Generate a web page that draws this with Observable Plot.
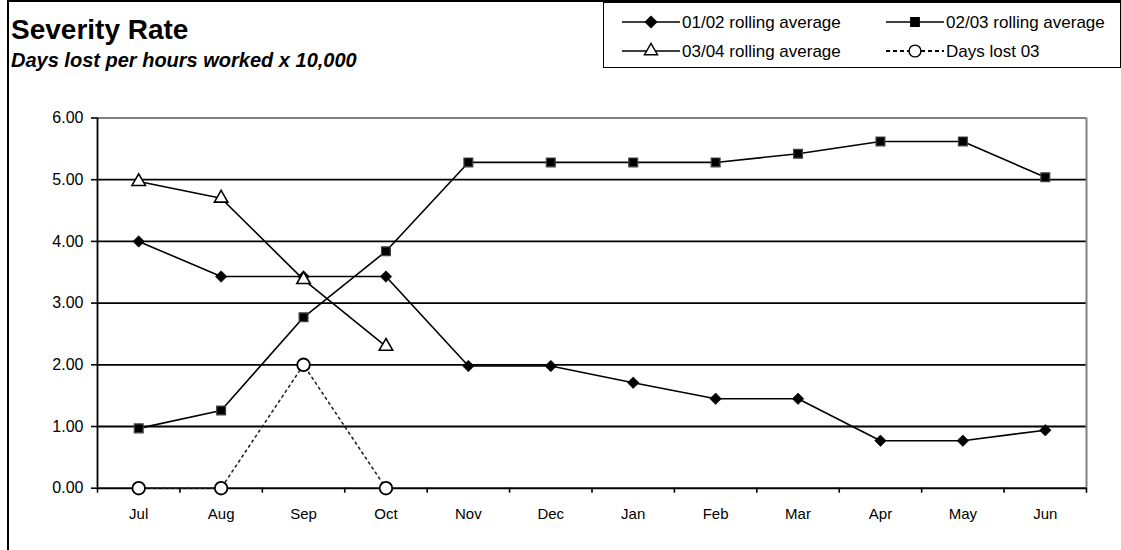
<!DOCTYPE html>
<html>
<head>
<meta charset="utf-8">
<script src="https://cdn.jsdelivr.net/npm/d3@7"></script>
<script src="https://cdn.jsdelivr.net/npm/@observablehq/plot@0.6"></script>
<style>
  html, body { margin: 0; padding: 0; background: #fff; }
  #wrap { position: relative; width: 1121px; height: 550px; background: #fff; font-family: "Liberation Sans", Arial, sans-serif; color: #000; overflow: hidden; }
  #frame { position: absolute; left: 7px; top: 0; width: 1114px; height: 550px; border-left: 2px solid #000; border-top: 2px solid #000; box-sizing: border-box; }
  #title { position: absolute; left: 11px; top: 16px; font-size: 28px; font-weight: bold; line-height: 1; }
  #subtitle { position: absolute; left: 11px; top: 50px; font-size: 20px; font-weight: bold; font-style: italic; line-height: 1; }
  #legend { position: absolute; left: 603px; top: 2px; width: 518px; height: 66px; border: 1.5px solid #000; box-sizing: border-box; background: #fff; }
  .item { position: absolute; display: flex; align-items: center; font-size: 17px; line-height: 1; white-space: nowrap; }
  .item svg { display: block; margin-right: 2px; }
  #chart { position: absolute; left: 0; top: 100px; }
</style>
</head>
<body>
<div id="wrap">
  <div id="frame"></div>
  <div id="title">Severity Rate</div>
  <div id="subtitle">Days lost per hours worked x 10,000</div>
  <div id="legend"></div>
  <div id="chart"></div>
</div>
<script>
// ---- data ----
const months = ["Jul", "Aug", "Sep", "Oct", "Nov", "Dec", "Jan", "Feb", "Mar", "Apr", "May", "Jun"];
const avg0102 = [4.00, 3.43, 3.43, 3.43, 1.98, 1.98, 1.71, 1.45, 1.45, 0.77, 0.77, 0.94];
const avg0203 = [0.97, 1.26, 2.77, 3.84, 5.28, 5.28, 5.28, 5.28, 5.42, 5.62, 5.62, 5.04];
const avg0304 = [4.97, 4.70, 3.38, 2.30];
const daysLost03 = [0.00, 0.00, 2.00, 0.00];
const yTicks = [0, 1, 2, 3, 4, 5, 6];
const seriesNames = ["01/02 rolling average", "02/03 rolling average", "03/04 rolling average", "Days lost 03"];

const toRows = (vals) => vals.map((v, i) => ({month: months[i], i, value: v}));
const s1 = toRows(avg0102), s2 = toRows(avg0203), s3 = toRows(avg0304), s4 = toRows(daysLost03);
const idx = months.map((m, i) => i);
const bounds = d3.range(months.length + 1).map(i => i - 0.5);

const chart = Plot.plot({
  width: 1121,
  height: 450,
  marginLeft: 97,
  marginRight: 35,
  marginTop: 17.5,
  marginBottom: 62.3,
  style: {fontFamily: '"Liberation Sans", Arial, sans-serif', fontSize: "15px", background: "transparent", color: "#000"},
  x: {domain: [-0.5, months.length - 0.5], label: null},
  y: {domain: [0, 6], label: null},
  marks: [
    Plot.ruleY(yTicks.filter(t => t > 0 && t < 6), {stroke: "#000", strokeWidth: 1.8}),
    Plot.ruleY([6], {stroke: "#808080", strokeWidth: 2}),
    Plot.ruleX([months.length - 0.5], {y1: 0, y2: 6, stroke: "#808080", strokeWidth: 2}),
    Plot.axisY({ticks: yTicks, tickFormat: d3.format(".2f"), tickSize: 6, tickPadding: 8, fontSize: 16, stroke: "#000", strokeWidth: 1.6, label: null}),
    Plot.axisX({ticks: idx, tickSize: 0, tickPadding: 20, tickFormat: i => months[i], fontSize: 15, label: null}),
    Plot.axisX({ticks: bounds, tickSize: 5, tickFormat: () => "", stroke: "#000", strokeWidth: 1.6, label: null}),
    Plot.ruleX([-0.5], {y1: 0, y2: 6, stroke: "#000", strokeWidth: 1.8}),
    Plot.ruleY([0], {stroke: "#000", strokeWidth: 2}),
    // Days lost 03 (dotted)
    Plot.line(s4, {x: "i", y: "value", stroke: "#222", strokeWidth: 1.6, strokeDasharray: "2,4"}),
    // series lines
    Plot.line(s1, {x: "i", y: "value", stroke: "#000", strokeWidth: 1.6}),
    Plot.line(s2, {x: "i", y: "value", stroke: "#000", strokeWidth: 1.6}),
    Plot.line(s3, {x: "i", y: "value", stroke: "#000", strokeWidth: 1.6}),
    // markers
    Plot.dot(s1, {x: "i", y: "value", symbol: "diamond2", r: 5.2, fill: "#000", stroke: "#000", strokeWidth: 0.6}),
    Plot.dot(s2, {x: "i", y: "value", symbol: "square", r: 5, fill: "#000", stroke: "#444", strokeWidth: 1.2}),
    Plot.dot(s3, {x: "i", y: "value", symbol: "triangle", r: 5, fill: "#fff", stroke: "#000", strokeWidth: 1.6}),
    Plot.dot(s4, {x: "i", y: "value", symbol: "circle", r: 6.3, fill: "#fff", stroke: "#000", strokeWidth: 1.8})
  ]
});
document.getElementById("chart").appendChild(chart);

// ---- legend ----
const legend = document.getElementById("legend");
const swatches = [
  {sym: "diamond2", fill: "#000", dash: null, size: 80},
  {sym: "square", fill: "#000", dash: null, size: 70},
  {sym: "triangle", fill: "#fff", dash: null, size: 75},
  {sym: "circle", fill: "#fff", dash: "4,3", size: 110}
];
const symMap = {diamond2: d3.symbolDiamond2, square: d3.symbolSquare, triangle: d3.symbolTriangle, circle: d3.symbolCircle};
const pos = [[18, 19], [282, 19], [18, 48], [282, 48]];
seriesNames.forEach((name, k) => {
  const sw = swatches[k];
  const div = document.createElement("div");
  div.className = "item";
  div.style.left = pos[k][0] + "px";
  div.style.top = (pos[k][1] - 10) + "px";
  const w = 58;
  const svg = d3.create("svg").attr("width", w).attr("height", 20);
  svg.append("line").attr("x1", 0).attr("x2", w).attr("y1", 10).attr("y2", 10)
    .attr("stroke", "#000").attr("stroke-width", sw.dash ? 2 : 1.5)
    .attr("stroke-dasharray", sw.dash);
  svg.append("path").attr("transform", `translate(${w / 2},10)`)
    .attr("d", d3.symbol(symMap[sw.sym], sw.size)())
    .attr("fill", sw.fill).attr("stroke", "#000").attr("stroke-width", 1.4);
  div.appendChild(svg.node());
  const span = document.createElement("span");
  span.textContent = name;
  div.appendChild(span);
  legend.appendChild(div);
});
</script>
</body>
</html>
